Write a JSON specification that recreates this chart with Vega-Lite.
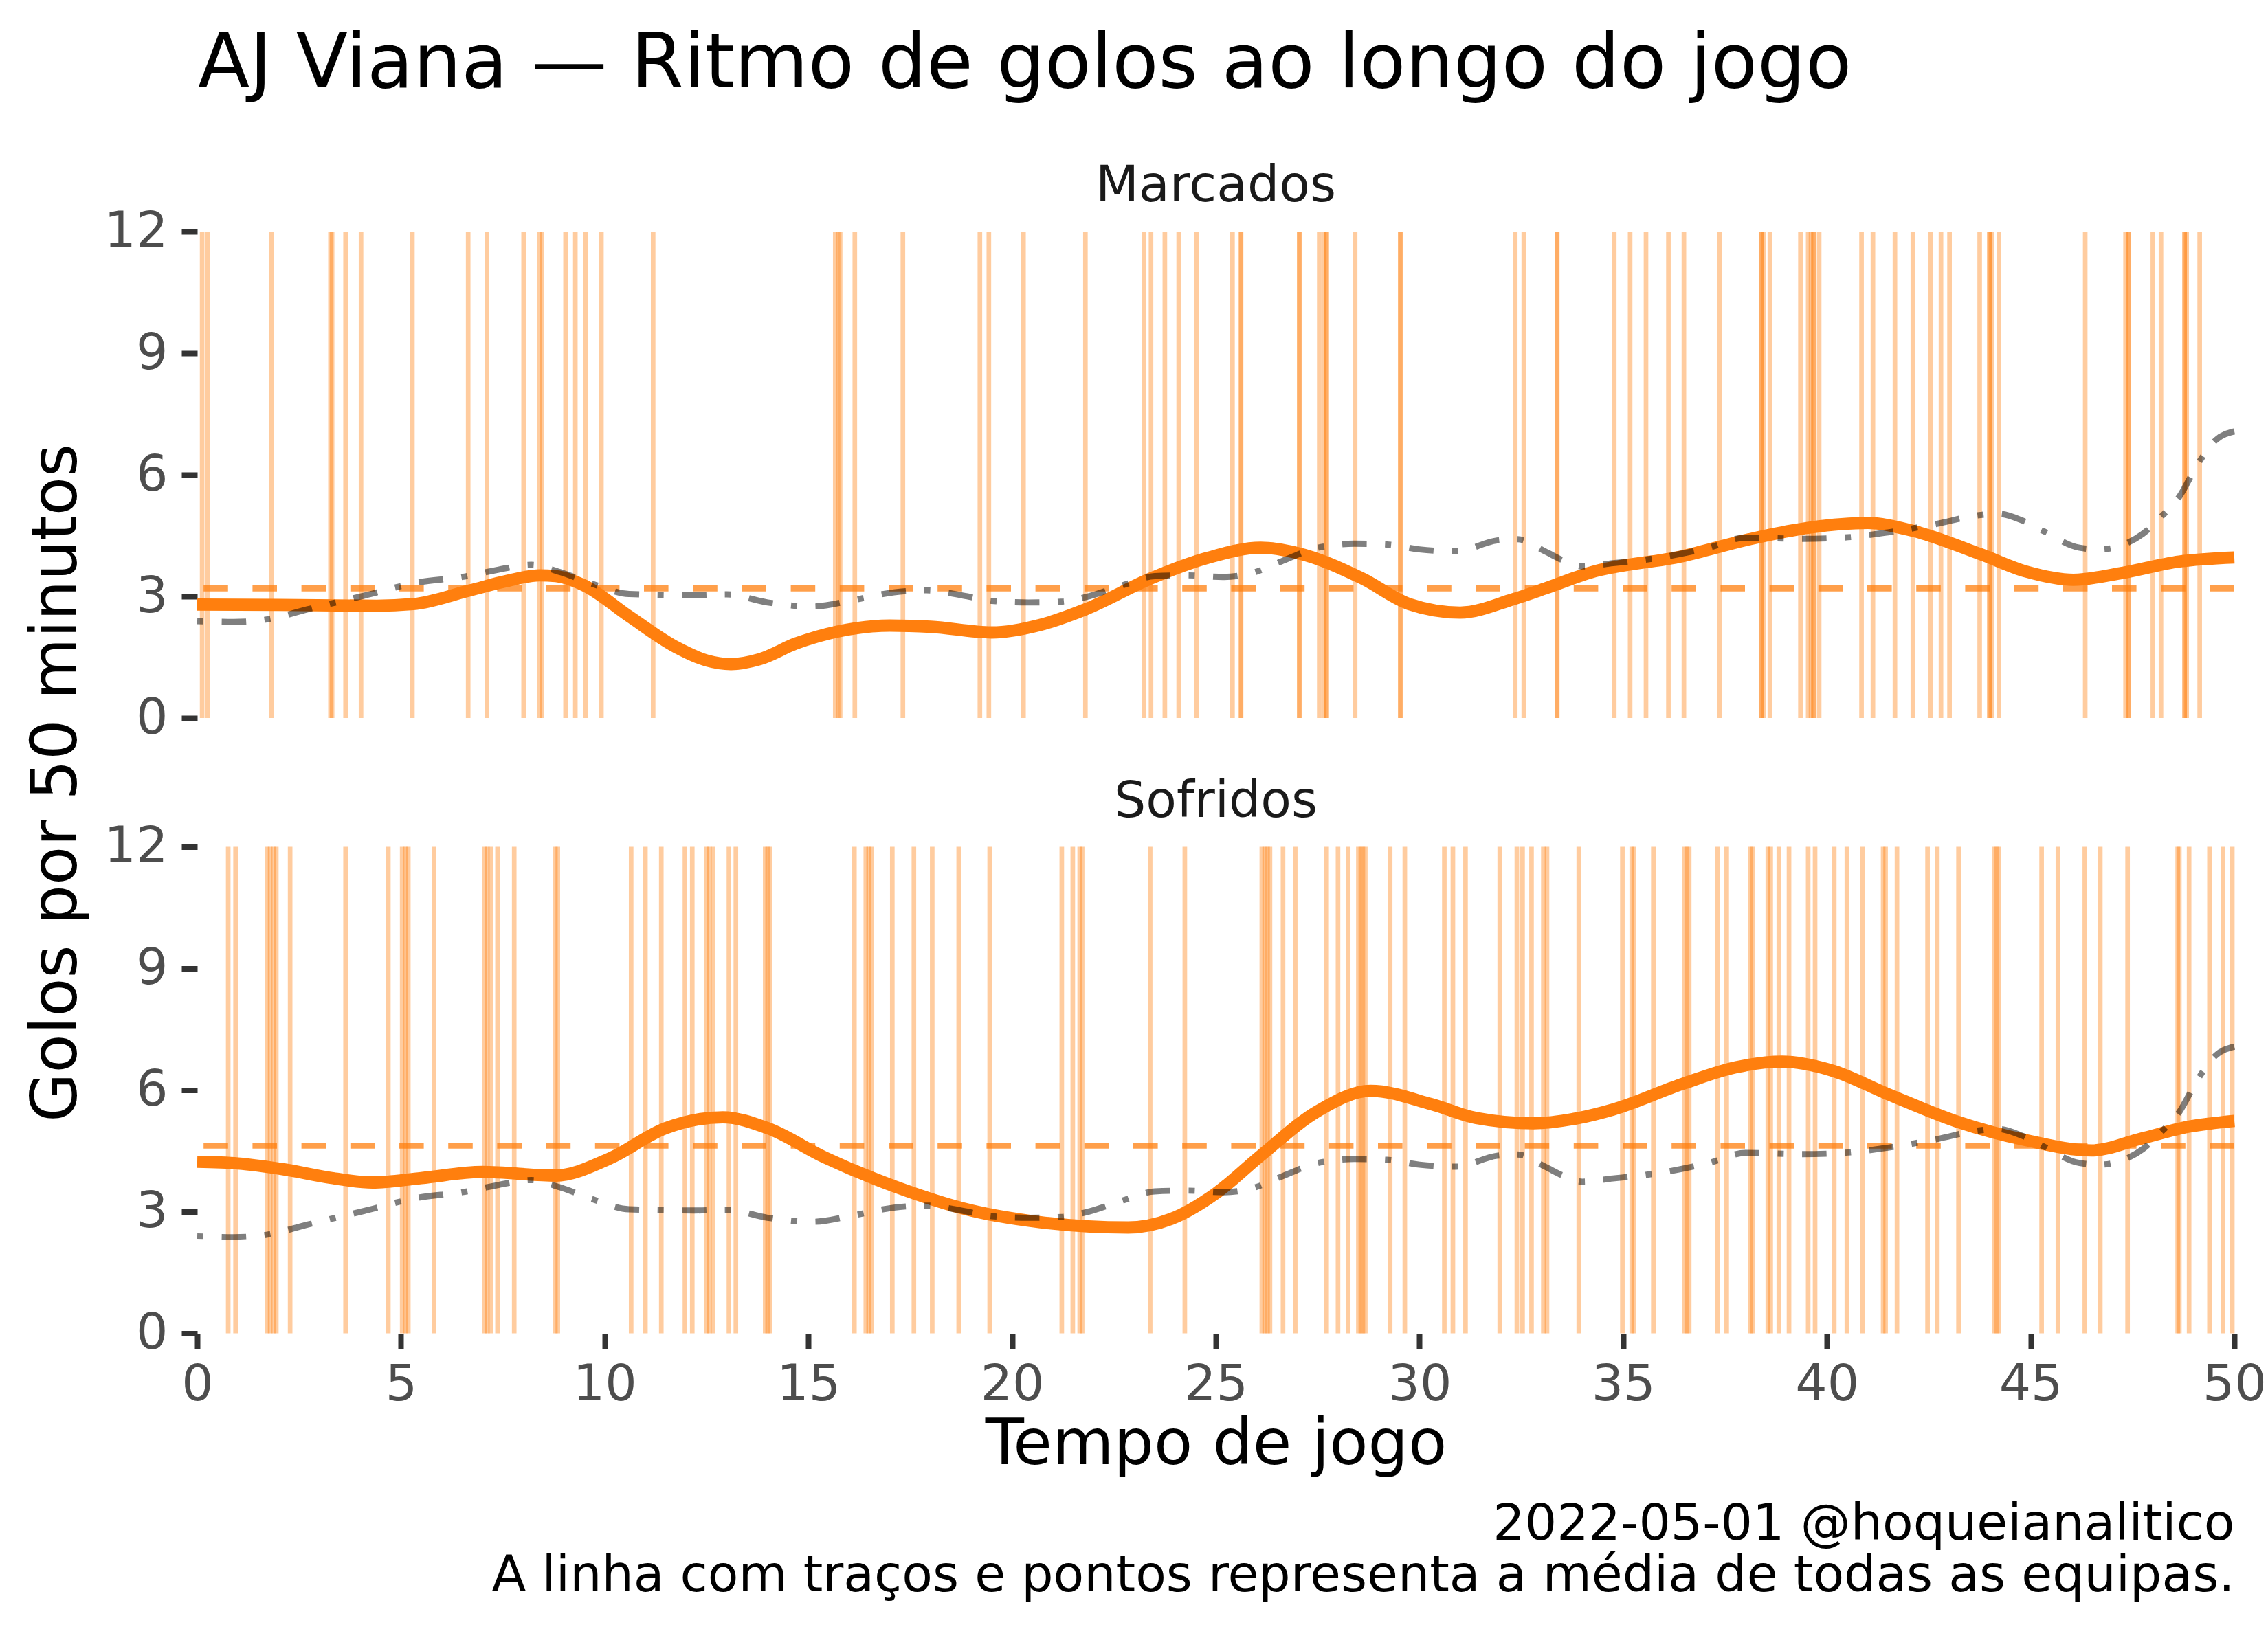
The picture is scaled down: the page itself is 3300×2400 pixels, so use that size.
{
  "$schema": "https://vega.github.io/schema/vega-lite/v6.json",
  "background": "white",
  "padding": {"left": 35, "top": 39, "right": 0, "bottom": 0},
  "config": {
    "font": "DejaVu Sans",
    "view": {"stroke": null},
    "axis": {
      "domain": false,
      "grid": false,
      "tickColor": "#333333",
      "tickWidth": 8,
      "tickSize": 23,
      "labelFontSize": 73,
      "labelColor": "#4d4d4d",
      "labelFlush": false,
      "labelOverlap": false,
      "titleFontWeight": "normal",
      "titleColor": "black",
      "titleFontSize": 92
    }
  },
  "title": {
    "text": "AJ Viana — Ritmo de golos ao longo do jogo",
    "anchor": "start",
    "fontSize": 110,
    "fontWeight": "normal",
    "color": "black",
    "baseline": "alphabetic",
    "dx": 252,
    "offset": -2
  },
  "datasets": {
    "golos": [
      {"painel": "Marcados", "minuto": 0.12}, {"painel": "Marcados", "minuto": 0.25}, {"painel": "Marcados", "minuto": 1.82},
      {"painel": "Marcados", "minuto": 3.27}, {"painel": "Marcados", "minuto": 3.31}, {"painel": "Marcados", "minuto": 3.64},
      {"painel": "Marcados", "minuto": 4.02}, {"painel": "Marcados", "minuto": 5.28}, {"painel": "Marcados", "minuto": 6.65},
      {"painel": "Marcados", "minuto": 7.11}, {"painel": "Marcados", "minuto": 8.01}, {"painel": "Marcados", "minuto": 8.40},
      {"painel": "Marcados", "minuto": 8.46}, {"painel": "Marcados", "minuto": 9.04}, {"painel": "Marcados", "minuto": 9.28},
      {"painel": "Marcados", "minuto": 9.53}, {"painel": "Marcados", "minuto": 9.92}, {"painel": "Marcados", "minuto": 11.19},
      {"painel": "Marcados", "minuto": 15.66}, {"painel": "Marcados", "minuto": 15.73}, {"painel": "Marcados", "minuto": 15.78},
      {"painel": "Marcados", "minuto": 16.14}, {"painel": "Marcados", "minuto": 17.32}, {"painel": "Marcados", "minuto": 19.21},
      {"painel": "Marcados", "minuto": 19.43}, {"painel": "Marcados", "minuto": 20.28}, {"painel": "Marcados", "minuto": 21.80},
      {"painel": "Marcados", "minuto": 23.24}, {"painel": "Marcados", "minuto": 23.41}, {"painel": "Marcados", "minuto": 23.75},
      {"painel": "Marcados", "minuto": 24.09}, {"painel": "Marcados", "minuto": 24.53}, {"painel": "Marcados", "minuto": 25.41},
      {"painel": "Marcados", "minuto": 25.62}, {"painel": "Marcados", "minuto": 25.62}, {"painel": "Marcados", "minuto": 27.05},
      {"painel": "Marcados", "minuto": 27.05}, {"painel": "Marcados", "minuto": 27.54}, {"painel": "Marcados", "minuto": 27.66},
      {"painel": "Marcados", "minuto": 27.72}, {"painel": "Marcados", "minuto": 27.72}, {"painel": "Marcados", "minuto": 28.42},
      {"painel": "Marcados", "minuto": 29.53}, {"painel": "Marcados", "minuto": 29.53}, {"painel": "Marcados", "minuto": 32.35},
      {"painel": "Marcados", "minuto": 32.56}, {"painel": "Marcados", "minuto": 33.38}, {"painel": "Marcados", "minuto": 33.38},
      {"painel": "Marcados", "minuto": 34.78}, {"painel": "Marcados", "minuto": 35.17}, {"painel": "Marcados", "minuto": 35.56},
      {"painel": "Marcados", "minuto": 36.11}, {"painel": "Marcados", "minuto": 36.49}, {"painel": "Marcados", "minuto": 37.37},
      {"painel": "Marcados", "minuto": 38.39}, {"painel": "Marcados", "minuto": 38.39}, {"painel": "Marcados", "minuto": 38.44},
      {"painel": "Marcados", "minuto": 38.60}, {"painel": "Marcados", "minuto": 39.35}, {"painel": "Marcados", "minuto": 39.54},
      {"painel": "Marcados", "minuto": 39.61}, {"painel": "Marcados", "minuto": 39.67}, {"painel": "Marcados", "minuto": 39.67},
      {"painel": "Marcados", "minuto": 39.81}, {"painel": "Marcados", "minuto": 40.85}, {"painel": "Marcados", "minuto": 41.13},
      {"painel": "Marcados", "minuto": 41.67}, {"painel": "Marcados", "minuto": 42.11}, {"painel": "Marcados", "minuto": 42.55},
      {"painel": "Marcados", "minuto": 42.80}, {"painel": "Marcados", "minuto": 43.01}, {"painel": "Marcados", "minuto": 43.75},
      {"painel": "Marcados", "minuto": 43.99}, {"painel": "Marcados", "minuto": 43.99}, {"painel": "Marcados", "minuto": 44.04},
      {"painel": "Marcados", "minuto": 44.22}, {"painel": "Marcados", "minuto": 46.34}, {"painel": "Marcados", "minuto": 47.33},
      {"painel": "Marcados", "minuto": 47.41}, {"painel": "Marcados", "minuto": 47.41}, {"painel": "Marcados", "minuto": 48.00},
      {"painel": "Marcados", "minuto": 48.20}, {"painel": "Marcados", "minuto": 48.78}, {"painel": "Marcados", "minuto": 48.78},
      {"painel": "Marcados", "minuto": 48.83}, {"painel": "Marcados", "minuto": 49.15},
      {"painel": "Sofridos", "minuto": 0.76}, {"painel": "Sofridos", "minuto": 0.94}, {"painel": "Sofridos", "minuto": 1.72},
      {"painel": "Sofridos", "minuto": 1.79}, {"painel": "Sofridos", "minuto": 1.88}, {"painel": "Sofridos", "minuto": 1.94},
      {"painel": "Sofridos", "minuto": 2.28}, {"painel": "Sofridos", "minuto": 3.64}, {"painel": "Sofridos", "minuto": 4.69},
      {"painel": "Sofridos", "minuto": 5.03}, {"painel": "Sofridos", "minuto": 5.11}, {"painel": "Sofridos", "minuto": 5.18},
      {"painel": "Sofridos", "minuto": 5.81}, {"painel": "Sofridos", "minuto": 7.05}, {"painel": "Sofridos", "minuto": 7.12},
      {"painel": "Sofridos", "minuto": 7.20}, {"painel": "Sofridos", "minuto": 7.37}, {"painel": "Sofridos", "minuto": 7.78},
      {"painel": "Sofridos", "minuto": 8.79}, {"painel": "Sofridos", "minuto": 8.85}, {"painel": "Sofridos", "minuto": 10.65},
      {"painel": "Sofridos", "minuto": 11.00}, {"painel": "Sofridos", "minuto": 11.39}, {"painel": "Sofridos", "minuto": 11.97},
      {"painel": "Sofridos", "minuto": 12.15}, {"painel": "Sofridos", "minuto": 12.50}, {"painel": "Sofridos", "minuto": 12.57},
      {"painel": "Sofridos", "minuto": 12.66}, {"painel": "Sofridos", "minuto": 13.05}, {"painel": "Sofridos", "minuto": 13.22},
      {"painel": "Sofridos", "minuto": 13.94}, {"painel": "Sofridos", "minuto": 14.00}, {"painel": "Sofridos", "minuto": 14.06},
      {"painel": "Sofridos", "minuto": 16.13}, {"painel": "Sofridos", "minuto": 16.41}, {"painel": "Sofridos", "minuto": 16.48},
      {"painel": "Sofridos", "minuto": 16.55}, {"painel": "Sofridos", "minuto": 17.06}, {"painel": "Sofridos", "minuto": 17.59},
      {"painel": "Sofridos", "minuto": 18.04}, {"painel": "Sofridos", "minuto": 18.69}, {"painel": "Sofridos", "minuto": 19.45},
      {"painel": "Sofridos", "minuto": 21.22}, {"painel": "Sofridos", "minuto": 21.49}, {"painel": "Sofridos", "minuto": 21.66},
      {"painel": "Sofridos", "minuto": 21.72}, {"painel": "Sofridos", "minuto": 23.39}, {"painel": "Sofridos", "minuto": 24.24},
      {"painel": "Sofridos", "minuto": 26.13}, {"painel": "Sofridos", "minuto": 26.20}, {"painel": "Sofridos", "minuto": 26.27},
      {"painel": "Sofridos", "minuto": 26.33}, {"painel": "Sofridos", "minuto": 26.65}, {"painel": "Sofridos", "minuto": 26.95},
      {"painel": "Sofridos", "minuto": 27.72}, {"painel": "Sofridos", "minuto": 28.00}, {"painel": "Sofridos", "minuto": 28.25},
      {"painel": "Sofridos", "minuto": 28.50}, {"painel": "Sofridos", "minuto": 28.56}, {"painel": "Sofridos", "minuto": 28.61},
      {"painel": "Sofridos", "minuto": 28.67}, {"painel": "Sofridos", "minuto": 29.28}, {"painel": "Sofridos", "minuto": 29.64},
      {"painel": "Sofridos", "minuto": 30.61}, {"painel": "Sofridos", "minuto": 30.82}, {"painel": "Sofridos", "minuto": 31.13},
      {"painel": "Sofridos", "minuto": 31.97}, {"painel": "Sofridos", "minuto": 32.39}, {"painel": "Sofridos", "minuto": 32.53},
      {"painel": "Sofridos", "minuto": 32.75}, {"painel": "Sofridos", "minuto": 33.04}, {"painel": "Sofridos", "minuto": 33.13},
      {"painel": "Sofridos", "minuto": 33.91}, {"painel": "Sofridos", "minuto": 34.98}, {"painel": "Sofridos", "minuto": 35.21},
      {"painel": "Sofridos", "minuto": 35.26}, {"painel": "Sofridos", "minuto": 35.74}, {"painel": "Sofridos", "minuto": 36.50},
      {"painel": "Sofridos", "minuto": 36.56}, {"painel": "Sofridos", "minuto": 36.62}, {"painel": "Sofridos", "minuto": 37.31},
      {"painel": "Sofridos", "minuto": 37.54}, {"painel": "Sofridos", "minuto": 38.12}, {"painel": "Sofridos", "minuto": 38.17},
      {"painel": "Sofridos", "minuto": 38.55}, {"painel": "Sofridos", "minuto": 38.62}, {"painel": "Sofridos", "minuto": 38.82},
      {"painel": "Sofridos", "minuto": 39.07}, {"painel": "Sofridos", "minuto": 39.54}, {"painel": "Sofridos", "minuto": 39.71},
      {"painel": "Sofridos", "minuto": 40.18}, {"painel": "Sofridos", "minuto": 40.49}, {"painel": "Sofridos", "minuto": 40.87},
      {"painel": "Sofridos", "minuto": 41.38}, {"painel": "Sofridos", "minuto": 41.44}, {"painel": "Sofridos", "minuto": 41.72},
      {"painel": "Sofridos", "minuto": 42.47}, {"painel": "Sofridos", "minuto": 42.71}, {"painel": "Sofridos", "minuto": 43.23},
      {"painel": "Sofridos", "minuto": 44.11}, {"painel": "Sofridos", "minuto": 44.17}, {"painel": "Sofridos", "minuto": 44.22},
      {"painel": "Sofridos", "minuto": 45.27}, {"painel": "Sofridos", "minuto": 45.67}, {"painel": "Sofridos", "minuto": 46.33},
      {"painel": "Sofridos", "minuto": 46.71}, {"painel": "Sofridos", "minuto": 47.38}, {"painel": "Sofridos", "minuto": 48.61},
      {"painel": "Sofridos", "minuto": 48.65}, {"painel": "Sofridos", "minuto": 48.89}, {"painel": "Sofridos", "minuto": 49.39},
      {"painel": "Sofridos", "minuto": 49.72}, {"painel": "Sofridos", "minuto": 49.95}
    ],
    "ritmo": [
      {"painel": "Marcados", "minuto": 0, "golos50": 2.80}, {"painel": "Marcados", "minuto": 2, "golos50": 2.79},
      {"painel": "Marcados", "minuto": 4.4, "golos50": 2.77}, {"painel": "Marcados", "minuto": 5.3, "golos50": 2.81},
      {"painel": "Marcados", "minuto": 6.7, "golos50": 3.15}, {"painel": "Marcados", "minuto": 7.6, "golos50": 3.38},
      {"painel": "Marcados", "minuto": 8.4, "golos50": 3.52}, {"painel": "Marcados", "minuto": 8.8, "golos50": 3.50},
      {"painel": "Marcados", "minuto": 9.5, "golos50": 3.27}, {"painel": "Marcados", "minuto": 10.6, "golos50": 2.51},
      {"painel": "Marcados", "minuto": 11.75, "golos50": 1.75}, {"painel": "Marcados", "minuto": 12.5, "golos50": 1.42},
      {"painel": "Marcados", "minuto": 13.1, "golos50": 1.33}, {"painel": "Marcados", "minuto": 13.8, "golos50": 1.45},
      {"painel": "Marcados", "minuto": 14.7, "golos50": 1.84}, {"painel": "Marcados", "minuto": 15.7, "golos50": 2.13},
      {"painel": "Marcados", "minuto": 17.0, "golos50": 2.28}, {"painel": "Marcados", "minuto": 18.0, "golos50": 2.25},
      {"painel": "Marcados", "minuto": 19.5, "golos50": 2.11}, {"painel": "Marcados", "minuto": 20.7, "golos50": 2.30},
      {"painel": "Marcados", "minuto": 21.8, "golos50": 2.68}, {"painel": "Marcados", "minuto": 23.4, "golos50": 3.44},
      {"painel": "Marcados", "minuto": 24.8, "golos50": 3.95}, {"painel": "Marcados", "minuto": 26.1, "golos50": 4.20},
      {"painel": "Marcados", "minuto": 27.0, "golos50": 4.07}, {"painel": "Marcados", "minuto": 28.6, "golos50": 3.44},
      {"painel": "Marcados", "minuto": 29.75, "golos50": 2.81}, {"painel": "Marcados", "minuto": 31.0, "golos50": 2.60},
      {"painel": "Marcados", "minuto": 32.3, "golos50": 2.93}, {"painel": "Marcados", "minuto": 33.1, "golos50": 3.20},
      {"painel": "Marcados", "minuto": 34.2, "golos50": 3.59}, {"painel": "Marcados", "minuto": 36.45, "golos50": 3.99},
      {"painel": "Marcados", "minuto": 38.1, "golos50": 4.41}, {"painel": "Marcados", "minuto": 39.6, "golos50": 4.70},
      {"painel": "Marcados", "minuto": 41.0, "golos50": 4.81}, {"painel": "Marcados", "minuto": 42.1, "golos50": 4.62},
      {"painel": "Marcados", "minuto": 43.8, "golos50": 4.03}, {"painel": "Marcados", "minuto": 44.9, "golos50": 3.61},
      {"painel": "Marcados", "minuto": 46.05, "golos50": 3.41}, {"painel": "Marcados", "minuto": 47.2, "golos50": 3.57},
      {"painel": "Marcados", "minuto": 48.65, "golos50": 3.86}, {"painel": "Marcados", "minuto": 50, "golos50": 3.96},
      {"painel": "Sofridos", "minuto": 0, "golos50": 4.23}, {"painel": "Sofridos", "minuto": 1.0, "golos50": 4.19},
      {"painel": "Sofridos", "minuto": 2.15, "golos50": 4.04}, {"painel": "Sofridos", "minuto": 3.3, "golos50": 3.83},
      {"painel": "Sofridos", "minuto": 4.3, "golos50": 3.72}, {"painel": "Sofridos", "minuto": 5.5, "golos50": 3.83},
      {"painel": "Sofridos", "minuto": 7.0, "golos50": 3.98}, {"painel": "Sofridos", "minuto": 8.8, "golos50": 3.89},
      {"painel": "Sofridos", "minuto": 10.1, "golos50": 4.30}, {"painel": "Sofridos", "minuto": 11.5, "golos50": 5.06},
      {"painel": "Sofridos", "minuto": 12.9, "golos50": 5.33}, {"painel": "Sofridos", "minuto": 14.0, "golos50": 5.06},
      {"painel": "Sofridos", "minuto": 15.4, "golos50": 4.34}, {"painel": "Sofridos", "minuto": 17.1, "golos50": 3.63},
      {"painel": "Sofridos", "minuto": 19.0, "golos50": 3.03}, {"painel": "Sofridos", "minuto": 20.7, "golos50": 2.74},
      {"painel": "Sofridos", "minuto": 22.85, "golos50": 2.61}, {"painel": "Sofridos", "minuto": 23.9, "golos50": 2.82},
      {"painel": "Sofridos", "minuto": 25.0, "golos50": 3.45}, {"painel": "Sofridos", "minuto": 26.1, "golos50": 4.38},
      {"painel": "Sofridos", "minuto": 27.5, "golos50": 5.48}, {"painel": "Sofridos", "minuto": 28.8, "golos50": 5.98},
      {"painel": "Sofridos", "minuto": 30.3, "golos50": 5.65}, {"painel": "Sofridos", "minuto": 31.4, "golos50": 5.31},
      {"painel": "Sofridos", "minuto": 32.8, "golos50": 5.18}, {"painel": "Sofridos", "minuto": 33.9, "golos50": 5.31},
      {"painel": "Sofridos", "minuto": 34.75, "golos50": 5.52}, {"painel": "Sofridos", "minuto": 36.45, "golos50": 6.15},
      {"painel": "Sofridos", "minuto": 37.8, "golos50": 6.57}, {"painel": "Sofridos", "minuto": 38.9, "golos50": 6.70},
      {"painel": "Sofridos", "minuto": 40.1, "golos50": 6.49}, {"painel": "Sofridos", "minuto": 41.5, "golos50": 5.90},
      {"painel": "Sofridos", "minuto": 43.2, "golos50": 5.22}, {"painel": "Sofridos", "minuto": 44.9, "golos50": 4.76},
      {"painel": "Sofridos", "minuto": 46.5, "golos50": 4.51}, {"painel": "Sofridos", "minuto": 47.7, "golos50": 4.80},
      {"painel": "Sofridos", "minuto": 48.9, "golos50": 5.10}, {"painel": "Sofridos", "minuto": 50, "golos50": 5.24}
    ],
    "liga": [
      {"minuto": 0, "golos50": 2.39}, {"minuto": 0.9, "golos50": 2.37}, {"minuto": 1.7, "golos50": 2.43},
      {"minuto": 2.7, "golos50": 2.68}, {"minuto": 4.1, "golos50": 3.02}, {"minuto": 5.4, "golos50": 3.34},
      {"minuto": 6.5, "golos50": 3.48}, {"minuto": 7.35, "golos50": 3.65}, {"minuto": 8.2, "golos50": 3.78},
      {"minuto": 8.9, "golos50": 3.60}, {"minuto": 9.7, "golos50": 3.31}, {"minuto": 10.6, "golos50": 3.06},
      {"minuto": 12.2, "golos50": 3.03}, {"minuto": 13.0, "golos50": 3.05}, {"minuto": 14.0, "golos50": 2.85},
      {"minuto": 15.1, "golos50": 2.75}, {"minuto": 16.2, "golos50": 2.93}, {"minuto": 17.1, "golos50": 3.10},
      {"minuto": 17.9, "golos50": 3.15}, {"minuto": 18.8, "golos50": 3.02}, {"minuto": 19.5, "golos50": 2.89},
      {"minuto": 20.4, "golos50": 2.85}, {"minuto": 21.2, "golos50": 2.87}, {"minuto": 21.8, "golos50": 2.98},
      {"minuto": 22.7, "golos50": 3.27}, {"minuto": 23.5, "golos50": 3.50}, {"minuto": 24.3, "golos50": 3.52},
      {"minuto": 25.2, "golos50": 3.48}, {"minuto": 26.0, "golos50": 3.61}, {"minuto": 26.6, "golos50": 3.86},
      {"minuto": 27.5, "golos50": 4.20}, {"minuto": 28.4, "golos50": 4.30}, {"minuto": 29.2, "golos50": 4.28},
      {"minuto": 30.0, "golos50": 4.16}, {"minuto": 30.9, "golos50": 4.11}, {"minuto": 31.9, "golos50": 4.38},
      {"minuto": 32.4, "golos50": 4.41}, {"minuto": 33.1, "golos50": 4.10}, {"minuto": 33.5, "golos50": 3.90},
      {"minuto": 34.0, "golos50": 3.74}, {"minuto": 34.75, "golos50": 3.82}, {"minuto": 35.5, "golos50": 3.90},
      {"minuto": 37.1, "golos50": 4.20}, {"minuto": 38.0, "golos50": 4.45}, {"minuto": 39.4, "golos50": 4.42},
      {"minuto": 40.4, "golos50": 4.45}, {"minuto": 41.5, "golos50": 4.58}, {"minuto": 42.7, "golos50": 4.79},
      {"minuto": 43.7, "golos50": 5.00}, {"minuto": 44.2, "golos50": 5.04}, {"minuto": 44.8, "golos50": 4.87},
      {"minuto": 45.3, "golos50": 4.62}, {"minuto": 46.2, "golos50": 4.20}, {"minuto": 46.7, "golos50": 4.16},
      {"minuto": 47.4, "golos50": 4.33}, {"minuto": 47.75, "golos50": 4.54}, {"minuto": 48.2, "golos50": 4.96},
      {"minuto": 48.65, "golos50": 5.46}, {"minuto": 49.1, "golos50": 6.26}, {"minuto": 49.55, "golos50": 6.86},
      {"minuto": 50, "golos50": 7.07}
    ],
    "medias": [
      {"painel": "Marcados", "golos50": 3.20},
      {"painel": "Sofridos", "golos50": 4.63}
    ]
  },
  "vconcat": [
    {
      "title": {
        "text": ["2022-05-01 @hoqueianalitico", "A linha com traços e pontos representa a média de todas as equipas."],
        "orient": "bottom",
        "anchor": "end",
        "align": "right",
        "fontSize": 73,
        "fontWeight": "normal",
        "color": "black",
        "baseline": "alphabetic",
        "lineHeight": 75,
        "dx": -46,
        "offset": 92
      },
      "bounds": "flush",
      "spacing": 187.5,
      "vconcat": [
        {
          "width": 2964,
          "height": 708,
          "title": {"text": "Marcados", "fontSize": 73, "fontWeight": "normal", "color": "#1a1a1a", "anchor": "middle", "frame": "group", "baseline": "alphabetic", "offset": -65},
          "layer": [
            {
              "data": {"name": "golos"},
              "transform": [{"filter": "datum.painel === 'Marcados'"}],
              "mark": {"type": "rule", "color": "#ff7f0e", "opacity": 0.4, "strokeWidth": 6.7},
              "encoding": {
                "x": {"field": "minuto", "type": "quantitative", "scale": {"domain": [0, 50], "nice": false}, "axis": null}
              }
            },
            {
              "data": {"name": "medias"},
              "transform": [{"filter": "datum.painel === 'Marcados'"}],
              "mark": {"type": "rule", "color": "#ff7f0e", "opacity": 0.75, "strokeWidth": 8.9, "strokeDash": [35.6, 35.6]},
              "encoding": {
                "y": {"field": "golos50", "type": "quantitative", "scale": {"domain": [0, 12], "nice": false},
                  "axis": {"values": [0, 3, 6, 9, 12], "labelPadding": 20, "title": "Golos por 50 minutos", "titleX": -177, "titleY": 802, "titleAngle": 270, "titleAlign": "center", "titleBaseline": "alphabetic"}}
              }
            },
            {
              "data": {"name": "ritmo"},
              "transform": [{"filter": "datum.painel === 'Marcados'"}],
              "mark": {"type": "line", "color": "#ff7f0e", "strokeWidth": 17.8, "interpolate": "monotone", "strokeCap": "butt"},
              "encoding": {
                "x": {"field": "minuto", "type": "quantitative", "scale": {"domain": [0, 50], "nice": false}, "axis": null},
                "y": {"field": "golos50", "type": "quantitative", "scale": {"domain": [0, 12], "nice": false},
                  "axis": {"values": [0, 3, 6, 9, 12], "labelPadding": 20, "title": "Golos por 50 minutos", "titleX": -177, "titleY": 802, "titleAngle": 270, "titleAlign": "center", "titleBaseline": "alphabetic"}}
              }
            },
            {
              "data": {"name": "liga"},
              "mark": {"type": "line", "color": "black", "opacity": 0.5, "strokeWidth": 8.9, "strokeDash": [8.9, 26.7, 35.6, 26.7], "interpolate": "monotone"},
              "encoding": {
                "x": {"field": "minuto", "type": "quantitative", "scale": {"domain": [0, 50], "nice": false}, "axis": null},
                "y": {"field": "golos50", "type": "quantitative", "scale": {"domain": [0, 12], "nice": false},
                  "axis": {"values": [0, 3, 6, 9, 12], "labelPadding": 20, "title": "Golos por 50 minutos", "titleX": -177, "titleY": 802, "titleAngle": 270, "titleAlign": "center", "titleBaseline": "alphabetic"}}
              }
            }
          ]
        },
        {
          "width": 2964,
          "height": 708,
          "title": {"text": "Sofridos", "fontSize": 73, "fontWeight": "normal", "color": "#1a1a1a", "anchor": "middle", "frame": "group", "baseline": "alphabetic", "offset": -65},
          "layer": [
            {
              "data": {"name": "golos"},
              "transform": [{"filter": "datum.painel === 'Sofridos'"}],
              "mark": {"type": "rule", "color": "#ff7f0e", "opacity": 0.4, "strokeWidth": 6.7},
              "encoding": {
                "x": {"field": "minuto", "type": "quantitative", "scale": {"domain": [0, 50], "nice": false},
                  "axis": {"values": [0, 5, 10, 15, 20, 25, 30, 35, 40, 45, 50], "labelPadding": 16, "title": "Tempo de jogo", "titlePadding": 5}}
              }
            },
            {
              "data": {"name": "medias"},
              "transform": [{"filter": "datum.painel === 'Sofridos'"}],
              "mark": {"type": "rule", "color": "#ff7f0e", "opacity": 0.75, "strokeWidth": 8.9, "strokeDash": [35.6, 35.6]},
              "encoding": {
                "y": {"field": "golos50", "type": "quantitative", "scale": {"domain": [0, 12], "nice": false},
                  "axis": {"values": [0, 3, 6, 9, 12], "labelPadding": 20, "title": null}}
              }
            },
            {
              "data": {"name": "ritmo"},
              "transform": [{"filter": "datum.painel === 'Sofridos'"}],
              "mark": {"type": "line", "color": "#ff7f0e", "strokeWidth": 17.8, "interpolate": "monotone", "strokeCap": "butt"},
              "encoding": {
                "x": {"field": "minuto", "type": "quantitative", "scale": {"domain": [0, 50], "nice": false},
                  "axis": {"values": [0, 5, 10, 15, 20, 25, 30, 35, 40, 45, 50], "labelPadding": 16, "title": "Tempo de jogo", "titlePadding": 5}},
                "y": {"field": "golos50", "type": "quantitative", "scale": {"domain": [0, 12], "nice": false},
                  "axis": {"values": [0, 3, 6, 9, 12], "labelPadding": 20, "title": null}}
              }
            },
            {
              "data": {"name": "liga"},
              "mark": {"type": "line", "color": "black", "opacity": 0.5, "strokeWidth": 8.9, "strokeDash": [8.9, 26.7, 35.6, 26.7], "interpolate": "monotone"},
              "encoding": {
                "x": {"field": "minuto", "type": "quantitative", "scale": {"domain": [0, 50], "nice": false},
                  "axis": {"values": [0, 5, 10, 15, 20, 25, 30, 35, 40, 45, 50], "labelPadding": 16, "title": "Tempo de jogo", "titlePadding": 5}},
                "y": {"field": "golos50", "type": "quantitative", "scale": {"domain": [0, 12], "nice": false},
                  "axis": {"values": [0, 3, 6, 9, 12], "labelPadding": 20, "title": null}}
              }
            }
          ]
        }
      ]
    }
  ]
}
